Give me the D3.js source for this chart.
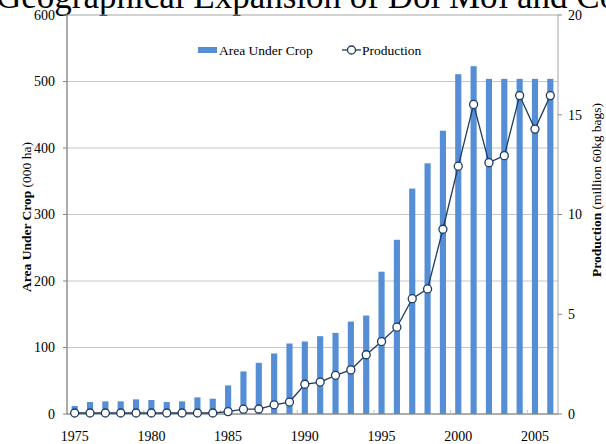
<!DOCTYPE html>
<html>
<head>
<meta charset="utf-8">
<style>
body { margin: 0; background: #fff; }
svg { display: block; font-family: "Liberation Serif", "Times New Roman", serif; }
.grid line { stroke: #c6c6c6; stroke-width: 1; }
.tick-lbl { font-size: 14px; fill: #000; font-family: "Liberation Serif", serif; }
</style>
</head>
<body>
<script src="https://d3js.org/d3.v7.min.js"></script>
<script>
// data
var years = [1975, 1976, 1977, 1978, 1979, 1980, 1981, 1982, 1983, 1984,
             1985, 1986, 1987, 1988, 1989, 1990, 1991, 1992, 1993, 1994,
             1995, 1996, 1997, 1998, 1999, 2000, 2001, 2002, 2003, 2004,
             2005, 2006];
var areaUnderCrop = [12, 18, 19, 19, 22, 21, 18, 19, 25, 23,
                     43, 64, 77, 91, 106, 109, 117, 122, 139, 148,
                     214, 262, 339, 377, 426, 511, 523, 504, 504, 504,
                     504, 504];   // 000 ha
var production = [0.05, 0.05, 0.05, 0.05, 0.05, 0.05, 0.05, 0.05, 0.05, 0.05,
                  0.12, 0.24, 0.25, 0.46, 0.6, 1.49, 1.6, 1.94, 2.21, 2.97,
                  3.63, 4.35, 5.78, 6.27, 9.26, 12.42, 15.52, 12.6, 12.95, 15.96,
                  14.28, 15.96];  // million 60kg bags
var yearLabels = [1975, 1980, 1985, 1990, 1995, 2000, 2005];
var areaTicks = [0, 100, 200, 300, 400, 500, 600];
var prodTicks = [0, 5, 10, 15, 20];

var W = 606, H = 444;
var plot = {left: 67, right: 558, top: 15, bottom: 414};

var svg = d3.select("body").append("svg")
    .attr("width", W)
    .attr("height", H);

var x = d3.scaleBand().domain(years).range([plot.left, plot.right]).paddingInner(0.6).paddingOuter(0.3);
var yL = d3.scaleLinear().domain([0, 600]).range([plot.bottom, plot.top]);
var yR = d3.scaleLinear().domain([0, 20]).range([plot.bottom, plot.top]);
var cx = function(d) { return x(d) + x.bandwidth() / 2; };

// title (cut off at the top edge like the source)
svg.append("text")
    .attr("x", -4)
    .attr("y", 8)
    .style("font-size", "35px")
    .text("Geographical Expansion of Đổi Mới and Coffee Production");

// gridlines
svg.append("g").attr("class", "grid")
  .selectAll("line")
  .data([100, 200, 300, 400, 500])
  .enter().append("line")
    .attr("x1", plot.left).attr("x2", plot.right)
    .attr("y1", function(d) { return yL(d); })
    .attr("y2", function(d) { return yL(d); });

// plot box
svg.append("rect")
    .attr("x", plot.left).attr("y", plot.top)
    .attr("width", plot.right - plot.left).attr("height", plot.bottom - plot.top)
    .attr("fill", "none").attr("stroke", "#a6a6a6");

// bars
svg.append("g").selectAll("rect")
  .data(years)
  .enter().append("rect")
    .attr("x", function(d) { return x(d); })
    .attr("width", x.bandwidth())
    .attr("y", function(d, i) { return yL(areaUnderCrop[i]); })
    .attr("height", function(d, i) { return yL(0) - yL(areaUnderCrop[i]); })
    .attr("fill", "#558ed5");

// axes lines
svg.append("line")
    .attr("x1", plot.left).attr("x2", plot.left)
    .attr("y1", plot.top).attr("y2", plot.bottom)
    .attr("stroke", "#868686");
svg.append("line")
    .attr("x1", plot.left).attr("x2", plot.right)
    .attr("y1", plot.bottom).attr("y2", plot.bottom)
    .attr("stroke", "#868686");

// left axis
var gl = svg.append("g");
gl.selectAll("line").data(areaTicks).enter().append("line")
    .attr("x1", plot.left - 4).attr("x2", plot.left)
    .attr("y1", function(d) { return yL(d); })
    .attr("y2", function(d) { return yL(d); })
    .attr("stroke", "#868686");
gl.selectAll("text").data(areaTicks).enter().append("text")
    .attr("class", "tick-lbl")
    .attr("x", 55)
    .attr("y", function(d) { return yL(d); })
    .attr("dy", "0.35em")
    .attr("text-anchor", "end")
    .text(function(d) { return d; });

// right axis
var gr = svg.append("g");
gr.selectAll("line").data(prodTicks).enter().append("line")
    .attr("x1", plot.right).attr("x2", plot.right + 4)
    .attr("y1", function(d) { return yR(d); })
    .attr("y2", function(d) { return yR(d); })
    .attr("stroke", "#868686");
gr.selectAll("text").data(prodTicks).enter().append("text")
    .attr("class", "tick-lbl")
    .attr("x", 568)
    .attr("y", function(d) { return yR(d); })
    .attr("dy", "0.35em")
    .text(function(d) { return d; });

// x axis: small inner ticks every 5 years, labels centred on the year
var gx = svg.append("g");
gx.selectAll("line").data(yearLabels.slice(1)).enter().append("line")
    .attr("x1", function(d) { return x(d) - x.step() * x.paddingInner() / 2; })
    .attr("x2", function(d) { return x(d) - x.step() * x.paddingInner() / 2; })
    .attr("y1", plot.bottom).attr("y2", plot.bottom - 4)
    .attr("stroke", "#c0c0c0");
gx.selectAll("text").data(yearLabels).enter().append("text")
    .attr("class", "tick-lbl")
    .attr("x", cx)
    .attr("y", 441)
    .attr("text-anchor", "middle")
    .text(function(d) { return d; });

// production line
var line = d3.line()
    .x(function(d) { return cx(d); })
    .y(function(d, i) { return yR(production[i]); });
svg.append("path")
    .datum(years)
    .attr("d", line)
    .attr("fill", "none")
    .attr("stroke", "#1f3a60")
    .attr("stroke-width", 1.3);
svg.append("g").selectAll("circle")
  .data(years)
  .enter().append("circle")
    .attr("cx", cx)
    .attr("cy", function(d, i) { return yR(production[i]); })
    .attr("r", 4)
    .attr("fill", "#fff")
    .attr("stroke", "#1f3a60")
    .attr("stroke-width", 1.3);

// axis titles
var tl = svg.append("text")
    .attr("transform", "translate(31,217) rotate(-90)")
    .attr("text-anchor", "middle")
    .style("font-size", "13.5px");
tl.append("tspan").style("font-weight", "bold").text("Area Under Crop");
tl.append("tspan").text(" (000 ha)");

var tr = svg.append("text")
    .attr("transform", "translate(601,190) rotate(-90)")
    .attr("text-anchor", "middle")
    .style("font-size", "13.5px");
tr.append("tspan").style("font-weight", "bold").text("Production");
tr.append("tspan").text(" (million 60kg bags)");

// legend
var lg = svg.append("g").style("font-size", "13.5px");
lg.append("rect").attr("x", 198).attr("y", 47).attr("width", 19).attr("height", 6).attr("fill", "#558ed5");
lg.append("text").attr("x", 219).attr("y", 55).text("Area Under Crop");
lg.append("line").attr("x1", 342).attr("x2", 361).attr("y1", 50).attr("y2", 50)
    .attr("stroke", "#1f3a60").attr("stroke-width", 1.3);
lg.append("circle").attr("cx", 351.5).attr("cy", 50).attr("r", 4)
    .attr("fill", "#fff").attr("stroke", "#1f3a60").attr("stroke-width", 1.3);
lg.append("text").attr("x", 362).attr("y", 55).text("Production");
</script>
</body>
</html>
